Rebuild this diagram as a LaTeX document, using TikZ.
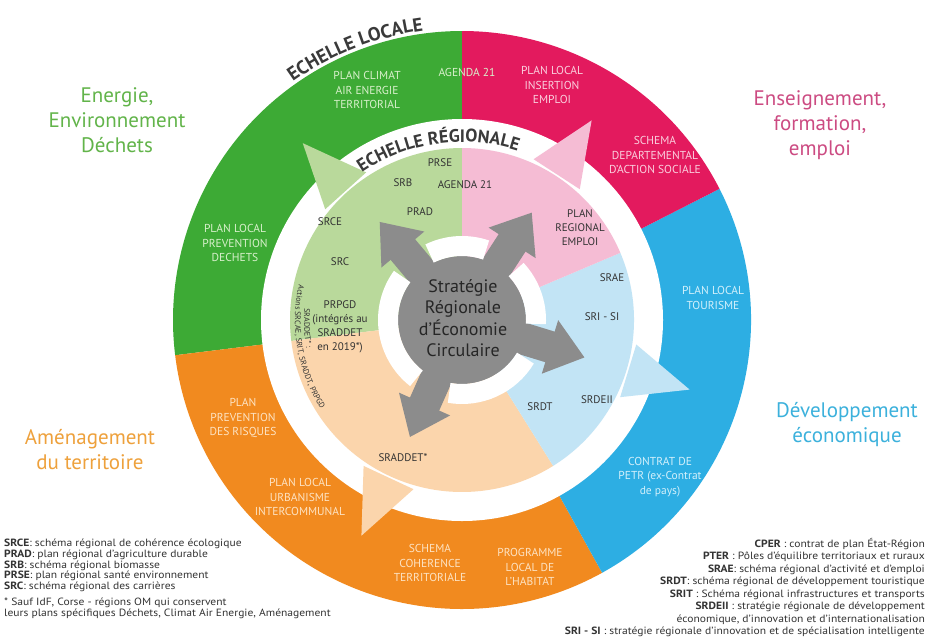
\documentclass[tikz,border=0pt]{standalone}
\usepackage{fontspec}
\usepackage{graphicx}
\setmainfont{PT Sans}
\usetikzlibrary{decorations.text,calc}
\definecolor{gOut}{HTML}{3DAA35}
\definecolor{mOut}{HTML}{E31A5E}
\definecolor{bOut}{HTML}{2DAEE3}
\definecolor{oOut}{HTML}{F18A1F}
\definecolor{gIn}{HTML}{B9D99B}
\definecolor{mIn}{HTML}{F5BCD4}
\definecolor{bIn}{HTML}{C2E4F5}
\definecolor{oIn}{HTML}{FBD5AC}
\definecolor{grayC}{HTML}{8C8C8C}
\definecolor{gTxt}{HTML}{D8F0CB}
\definecolor{mTxt}{HTML}{FAD0DE}
\definecolor{bTxt}{HTML}{D3F0FB}
\definecolor{oTxt}{HTML}{FDE3C3}
\definecolor{dark}{HTML}{333333}
\definecolor{echelle}{HTML}{3A3A3A}
\definecolor{tG}{HTML}{62B44A}
\definecolor{tM}{HTML}{CC4B82}
\definecolor{tB}{HTML}{3CB1DC}
\definecolor{tO}{HTML}{EEA13C}
\begin{document}
\begin{tikzpicture}[x=1pt,y=1pt,
  outl/.style={align=center, font=\fontsize{11.5}{14.5}\selectfont, inner sep=0pt},
  regl/.style={align=center, font=\fontsize{11}{14}\selectfont, text=dark, inner sep=0pt},
  titl/.style={align=center, font=\fontsize{21}{25}\selectfont, inner sep=0pt},
  legbox/.style={inner sep=0pt, text=dark},
]
\useasboundingbox (0,0) rectangle (928,-641);
\fill[white] (0,0) rectangle (928,-641);
\coordinate (C) at (462,-320);
\begin{scope}[shift={(C)}]
 % outer ring (local scale)
 \fill[gOut] (0,0) -- (90:289) arc[start angle=90,end angle=187,radius=289] -- cycle;
 \fill[oOut] (0,0) -- (187:289) arc[start angle=187,end angle=299,radius=289] -- cycle;
 \fill[bOut] (0,0) -- (299:289) arc[start angle=299,end angle=387,radius=289] -- cycle;
 \fill[mOut] (0,0) -- (27:289) arc[start angle=27,end angle=90,radius=289] -- cycle;
 \fill[white] (0,0) circle (201);
 % regional disc
 \fill[gIn] (0,0) -- (90:172) arc[start angle=90,end angle=187,radius=172] -- cycle;
 \fill[oIn] (0,0) -- (187:172) arc[start angle=187,end angle=302,radius=172] -- cycle;
 \fill[bIn] (0,0) -- (302:172) arc[start angle=302,end angle=383,radius=172] -- cycle;
 \fill[mIn] (0,0) -- (23:172) arc[start angle=23,end angle=90,radius=172] -- cycle;
 % coloured arrowheads
 \foreach \a/\c in {132/gIn,57/mIn,-17/bIn,-115/oIn}
   \fill[\c] (\a+9:176) -- (\a:238) -- (\a-9:176) -- cycle;
 % grey centre with arrows
 \fill[grayC] (0,0) circle (64);
 \foreach \a in {130,57,-17,-114} {
   \fill[grayC,rotate=\a] (0,-16) rectangle (94,16);
   \fill[grayC,rotate=\a] (92,-28) -- (128,0) -- (92,28) -- cycle;
 }
 \foreach \s/\e in {57/130,130/246,246/343,343/417}
   \draw[white,line width=20] (\s+14:74) arc[start angle=\s+14,end angle=\e-14,radius=74];
 % curved titles
 \path[decorate,decoration={text along path,text align=center,text color=echelle,
   text={|\fontsize{19}{19}\selectfont\bfseries|ECHELLE LOCALE}}]
   (150:292) arc[start angle=150,end angle=73,radius=292];
 \path[decorate,decoration={text along path,text align=center,text color=echelle,
   text={|\fontsize{18}{18}\selectfont\bfseries|ECHELLE RÉGIONALE}}]
   (150:178) arc[start angle=150,end angle=46,radius=178];
 \path[decorate,decoration={text along path,text align=center,text color=dark,
   text={|\fontsize{8}{8}\selectfont|Actions SRCAE, SRIT, SRADDT, PRPGD}}]
   (160:167) arc[start angle=160,end angle=220,radius=167];
 \path[decorate,decoration={text along path,text align=center,text color=dark,
   text={|\fontsize{8}{8}\selectfont|SRADDET* :}}]
   (163:158) arc[start angle=163,end angle=203,radius=158];
\end{scope}
% centre text
\node[align=center,font=\fontsize{18}{21.5}\selectfont,text=black!85,inner sep=0pt] (sreci) at (463,-318) {Stratégie\\Régionale\\d'Économie\\Circulaire};
% outer ring labels
\node[outl,text=gTxt] (climat) at (367,-90) {PLAN CLIMAT\\AIR ENERGIE\\TERRITORIAL};
\node[outl,text=gTxt] (agendaL) at (467,-72) {AGENDA 21};
\node[outl,text=mTxt] (insertion) at (552,-85) {PLAN LOCAL\\INSERTION\\EMPLOI};
\node[outl,text=mTxt] (schemaDep) at (655,-155) {SCHEMA\\DEPARTEMENTAL\\D'ACTION SOCIALE};
\node[outl,text=gTxt] (prevDech) at (235,-243) {PLAN LOCAL\\PREVENTION\\DECHETS};
\node[outl,text=bTxt] (tourisme) at (713,-298) {PLAN LOCAL\\TOURISME};
\node[outl,text=oTxt] (risques) at (243,-418) {PLAN\\PREVENTION\\DES RISQUES};
\node[outl,text=oTxt] (urbanisme) at (300,-497) {PLAN LOCAL\\URBANISME\\INTERCOMMUNAL};
\node[outl,text=oTxt] (scot) at (430,-563) {SCHEMA\\COHERENCE\\TERRITORIALE};
\node[outl,text=bTxt] (petr) at (660,-477) {CONTRAT DE\\PETR (ex-Contrat\\de pays)};
\node[outl,text=oTxt] (habitat) at (530,-567) {PROGRAMME\\LOCAL DE\\L'HABITAT};
% regional labels
\node[regl] (prse) at (440,-163) {PRSE};
\node[regl] (srb) at (403,-183) {SRB};
\node[regl] (agendaR) at (465,-185) {AGENDA 21};
\node[regl] (prad) at (420,-212) {PRAD};
\node[regl] (srce) at (330,-222) {SRCE};
\node[regl] (src) at (340,-262) {SRC};
\node[regl] (prpgd) at (340,-327) {PRPGD\\(intégrés au\\SRADDET\\en 2019*)};
\node[regl] (pre) at (580,-228) {PLAN\\REGIONAL\\EMPLOI};
\node[regl] (srae) at (612,-278) {SRAE};
\node[regl] (srisi) at (602,-317) {SRI - SI};
\node[regl] (srdeii) at (597,-400) {SRDEII};
\node[regl] (srdt) at (540,-407) {SRDT};
\node[regl] (sraddet) at (403,-458) {SRADDET*};
% domain titles
\node[titl,text=tG] (tEnergie) at (117,-120) {Energie,\\Environnement\\Déchets};
\node[titl,text=tM] (tEnseign) at (820,-125) {Enseignement,\\formation,\\emploi};
\node[titl,text=tB] (tDev) at (847,-425) {Développement\\économique};
\node[titl,text=tO] (tAmenag) at (90,-450) {Aménagement\\du territoire};
% legends
\node[legbox,anchor=north west] (legL) at (4,-539) {\scalebox{1.1}[1]{\fontsize{10.5}{10.5}\selectfont
\begin{tabular}{@{}l@{}}
\textbf{SRCE}: schéma régional de cohérence écologique\\
\textbf{PRAD}: plan régional d'agriculture durable\\
\textbf{SRB}: schéma régional biomasse\\
\textbf{PRSE}: plan régional santé environnement\\
\textbf{SRC}: schéma régional des carrières\\[5pt]
* Sauf IdF, Corse - régions OM qui conservent\\
leurs plans spécifiques Déchets, Climat Air Energie, Aménagement
\end{tabular}}};
\node[legbox,anchor=north east] (legR) at (925,-538) {\scalebox{1.1}[1]{\fontsize{10.5}{12.5}\selectfont
\begin{tabular}{@{}r@{}}
\textbf{CPER} : contrat de plan État-Région\\
\textbf{PTER} : Pôles d'équilibre territoriaux et ruraux\\
\textbf{SRAE}: schéma régional d'activité et d'emploi\\
\textbf{SRDT}: schéma régional de développement touristique\\
\textbf{SRIT} : Schéma régional infrastructures et transports\\
\textbf{SRDEII} : stratégie régionale de développement\\
économique, d'innovation et d'internationalisation\\
\textbf{SRI - SI} : stratégie régionale d'innovation et de spécialisation intelligente
\end{tabular}}};
\end{tikzpicture}
\end{document}
